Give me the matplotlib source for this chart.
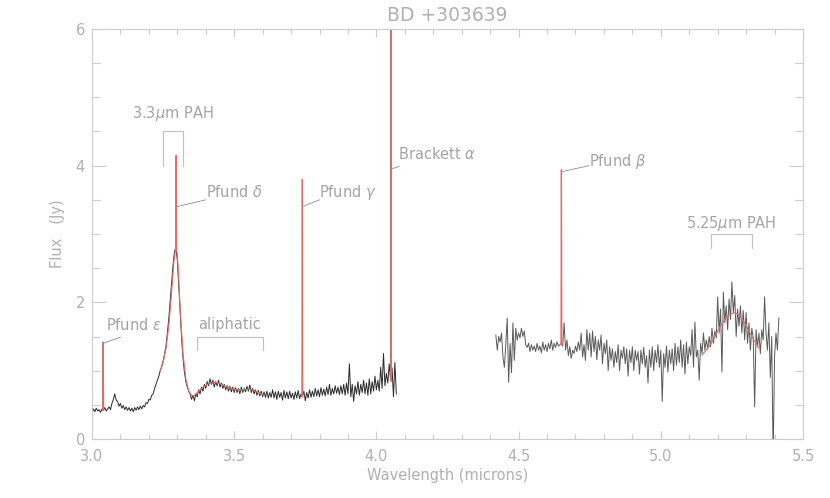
import numpy as np
import matplotlib.pyplot as plt
from matplotlib.ticker import MultipleLocator

# ─────────────────────────────────────────────
# Data
# ─────────────────────────────────────────────

# short-wavelength spectrum: 3.000 .. 4.070 step 0.005
SHORT_START, SHORT_STEP = 3.000, 0.005
short_flux = [
    0.38, 0.44, 0.40, 0.45, 0.41, 0.43, 0.39, 0.44, 0.42, 0.46,
    0.41, 0.44, 0.47, 0.43, 0.52, 0.58, 0.66, 0.57, 0.55, 0.48,
    0.52, 0.45, 0.49, 0.43, 0.47, 0.42, 0.46, 0.41, 0.45, 0.40,
    0.46, 0.42, 0.47, 0.43, 0.48, 0.44, 0.49, 0.47, 0.53, 0.52,
    0.58, 0.57, 0.64, 0.66, 0.74, 0.80, 0.86, 0.92, 1.00, 1.06,
    1.14, 1.24, 1.36, 1.55, 1.76, 2.02, 2.30, 2.55, 2.74, 2.80,
    2.62, 2.25, 1.85, 1.48, 1.18, 0.98, 0.84, 0.76, 0.70, 0.66,
    0.58, 0.64, 0.56, 0.66, 0.62, 0.72, 0.66, 0.76, 0.70, 0.80,
    0.74, 0.84, 0.78, 0.88, 0.80, 0.86, 0.76, 0.84, 0.78, 0.86,
    0.76, 0.82, 0.74, 0.80, 0.72, 0.78, 0.70, 0.77, 0.69, 0.76,
    0.68, 0.75, 0.68, 0.74, 0.66, 0.76, 0.68, 0.74, 0.69, 0.77,
    0.70, 0.79, 0.68, 0.74, 0.66, 0.72, 0.64, 0.71, 0.63, 0.70,
    0.62, 0.69, 0.61, 0.70, 0.60, 0.68, 0.61, 0.72, 0.60, 0.69,
    0.58, 0.70, 0.61, 0.68, 0.57, 0.71, 0.60, 0.69, 0.59, 0.70,
    0.60, 0.67, 0.58, 0.69, 0.60, 0.71, 0.59, 0.66, 0.62, 0.70,
    0.56, 0.68, 0.60, 0.72, 0.61, 0.70, 0.62, 0.74, 0.63, 0.72,
    0.62, 0.75, 0.64, 0.73, 0.63, 0.76, 0.65, 0.80, 0.64, 0.74,
    0.66, 0.78, 0.67, 0.76, 0.65, 0.78, 0.66, 0.80, 0.64, 0.82,
    0.66, 1.10, 0.62, 0.80, 0.55, 0.78, 0.66, 0.84, 0.64, 0.80,
    0.68, 0.86, 0.66, 0.82, 0.64, 0.88, 0.66, 0.84, 0.70, 0.92,
    0.72, 0.86, 0.70, 1.05, 0.74, 1.25, 0.78, 0.96, 0.82, 1.10,
    0.86, 1.04, 0.62, 1.12, 0.66,
]

# long-wavelength spectrum: 4.420 .. 5.415 step 0.005
LONG_START, LONG_STEP = 4.420, 0.005
long_flux = [
    1.52, 1.30, 1.50, 1.42, 1.55, 1.20, 1.05, 1.38, 1.77, 0.83,
    1.40, 0.97, 1.70, 1.15, 1.62, 1.45, 1.55, 1.48, 1.62, 1.50,
    1.58, 1.38, 1.34, 1.40, 1.28, 1.38, 1.30, 1.36, 1.28, 1.40,
    1.30, 1.36, 1.26, 1.42, 1.30, 1.38, 1.28, 1.40, 1.32, 1.45,
    1.30, 1.40, 1.34, 1.42, 1.36, 1.38, 1.40, 1.36, 1.70, 1.30,
    1.45, 1.22, 1.35, 1.18, 1.30, 1.25, 1.36, 1.28, 1.42, 1.30,
    1.55, 1.20, 1.38, 1.15, 1.60, 1.30, 1.55, 1.20, 1.58, 1.28,
    1.50, 1.16, 1.45, 1.30, 1.52, 1.10, 1.40, 1.25, 1.45, 1.00,
    1.35, 1.15, 1.32, 1.05, 1.28, 1.12, 1.38, 1.00, 1.30, 1.18,
    1.35, 1.10, 1.32, 0.92, 1.30, 1.12, 1.35, 1.00, 1.30, 1.15,
    1.28, 0.95, 1.30, 1.10, 1.34, 1.05, 1.22, 0.82, 1.30, 1.05,
    1.35, 1.00, 1.30, 1.12, 1.38, 1.05, 1.30, 0.55, 1.25, 1.05,
    1.36, 0.98, 1.30, 1.10, 1.32, 1.00, 1.40, 1.08, 1.35, 1.12,
    1.45, 1.05, 1.38, 0.95, 1.42, 1.10, 1.35, 1.22, 1.60, 1.05,
    1.71, 1.20, 1.30, 0.86, 1.40, 1.25, 1.55, 1.30, 1.45, 1.32,
    1.50, 1.35, 1.62, 1.40, 1.58, 1.48, 2.08, 1.55, 1.90, 0.98,
    2.15, 1.70, 1.95, 1.60, 2.05, 1.75, 2.30, 1.85, 2.10, 1.50,
    1.90, 1.65, 1.95, 1.55, 1.88, 1.45, 1.85, 1.40, 1.70, 1.30,
    1.62, 1.48, 0.47, 1.60, 1.35, 1.55, 1.25, 1.60, 1.45, 2.08,
    1.55, 1.30, 1.70, 0.90, 1.50, -0.30, 1.20, 1.55, 1.30, 1.77,
]

# fitted model: 3.3um PAH + aliphatic continuum
pah33_wave = [3.240, 3.250, 3.260, 3.270, 3.280, 3.288, 3.293, 3.2955, 3.2961,
              3.2967, 3.300, 3.305, 3.310, 3.320, 3.330, 3.340, 3.350, 3.358,
              3.370, 3.390, 3.410, 3.430, 3.450, 3.470, 3.490, 3.510, 3.530,
              3.550, 3.570, 3.590, 3.600]
pah33_flux = [1.00, 1.12, 1.32, 1.65, 2.15, 2.60, 2.75, 2.78, 4.15,
              2.78, 2.70, 2.35, 1.90, 1.25, 0.88, 0.70, 0.64, 0.63,
              0.68, 0.76, 0.81, 0.83, 0.81, 0.77, 0.74, 0.72, 0.72,
              0.73, 0.71, 0.67, 0.65]

# fitted model: 5.25um PAH
pah525_wave = [5.145, 5.160, 5.180, 5.200, 5.220, 5.240, 5.260, 5.280, 5.300, 5.320, 5.345]
pah525_flux = [1.23, 1.30, 1.42, 1.58, 1.72, 1.82, 1.85, 1.80, 1.66, 1.50, 1.33]

# recombination lines: centre, continuum level, peak
line_names = [r"Pfund $\epsilon$", r"Pfund $\delta$", r"Pfund $\gamma$",
              r"Brackett $\alpha$", r"Pfund $\beta$"]
line_centers = [3.0392, 3.2961, 3.7395, 4.0512, 4.6505]
line_base = [0.42, 2.78, 0.62, 0.85, 1.38]
line_peak = [1.42, 4.15, 3.80, 8.00, 3.94]

# annotations: label position and end of leader line (data coords)
label_xy = [(3.05, 1.67), (3.40, 3.61), (3.797, 3.61), (4.077, 4.17), (4.747, 4.06)]
leader_from = [(3.039, 1.40), (3.298, 3.40), (3.740, 3.40), (4.052, 3.95), (4.650, 3.91)]
leader_to = [(3.10, 1.49), (3.40, 3.50), (3.800, 3.50), (4.080, 3.99), (4.747, 4.00)]

# brackets: (x_left, x_right, y_top, y_bottom, label, label_y)
brackets = [
    (3.25, 3.32, 4.50, 4.00, r"3.3$\mu$m PAH", 4.77),
    (3.37, 3.60, 1.49, 1.30, "aliphatic", 1.67),
    (5.175, 5.32, 3.00, 2.80, r"5.25$\mu$m PAH", 3.16),
]

AXIS_COL = "#cccccc"
TEXT_COL = "#b0b0b0"
ANNOT_COL = "#a4a4a4"
DATA_COL = "#2a2a2a"
FIT_COL = "#e46a6a"


def main():
    short_wave = SHORT_START + SHORT_STEP * np.arange(len(short_flux))
    long_wave = LONG_START + LONG_STEP * np.arange(len(long_flux))

    fig = plt.figure(figsize=(8.3, 4.98), dpi=100)
    ax = fig.add_axes([92 / 830, 59 / 498, 711 / 830, 410 / 498])

    ax.plot(short_wave, short_flux, color=DATA_COL, lw=0.7)
    ax.plot(long_wave, long_flux, color="#5a5a5a", lw=0.7)

    ax.plot(pah33_wave, pah33_flux, color=FIT_COL, lw=0.8)
    ax.plot(pah525_wave, pah525_flux, color=FIT_COL, lw=0.8)
    for c, b, p in zip(line_centers, line_base, line_peak):
        ax.plot([c - 0.0015, c, c + 0.0015], [b, p, b], color=FIT_COL, lw=0.9)

    for name, (tx, ty), p0, p1 in zip(line_names, label_xy, leader_from, leader_to):
        ax.plot([p0[0], p1[0]], [p0[1], p1[1]], color="#909090", lw=0.6)
        ax.text(tx, ty, name, color=ANNOT_COL, fontsize=10.5, ha="left", va="center")

    for x0, x1, yt, yb, lab, ly in brackets:
        ax.plot([x0, x0, x1, x1], [yb, yt, yt, yb], color="#c0c0c0", lw=0.8)
        ax.text((x0 + x1) / 2, ly, lab, color=ANNOT_COL, fontsize=10.5,
                ha="center", va="center")

    ax.set_xlim(3.0, 5.5)
    ax.set_ylim(0, 6)
    ax.xaxis.set_major_locator(MultipleLocator(0.5))
    ax.xaxis.set_minor_locator(MultipleLocator(0.1))
    ax.yaxis.set_major_locator(MultipleLocator(2))
    ax.yaxis.set_minor_locator(MultipleLocator(0.5))
    ax.xaxis.set_major_formatter(plt.FormatStrFormatter("%.1f"))
    ax.yaxis.set_major_formatter(plt.FormatStrFormatter("%d"))

    for s in ax.spines.values():
        s.set_color(AXIS_COL)
        s.set_linewidth(0.8)
    ax.tick_params(axis="both", which="both", direction="in", top=True, right=True,
                   colors=AXIS_COL, labelcolor=TEXT_COL, labelsize=10.5, width=0.8)
    ax.tick_params(axis="x", which="major", length=6, pad=7)
    ax.tick_params(axis="x", which="minor", length=3.5)
    ax.tick_params(axis="y", which="major", length=10, pad=5)
    ax.tick_params(axis="y", which="minor", length=5.5)

    ax.set_xlabel("Wavelength (microns)", color=TEXT_COL, fontsize=10.5, labelpad=3)
    ax.set_ylabel("Flux   (Jy)", color=TEXT_COL, fontsize=10.5, labelpad=8)
    ax.set_title("BD +303639", color=TEXT_COL, fontsize=13.5, pad=6)

    fig.savefig("out.png", dpi=100)
    plt.close(fig)


if __name__ == "__main__":
    main()
